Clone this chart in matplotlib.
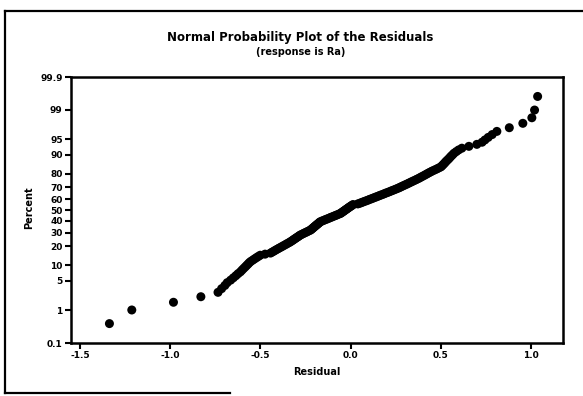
import numpy as np
import matplotlib
matplotlib.use("Agg")
import matplotlib.pyplot as plt
from matplotlib.lines import Line2D
from statistics import NormalDist

# sorted residuals from the fitted model (response Ra)
residuals = [
    -1.337, -1.213, -0.982, -0.830, -0.735, -0.715, -0.697, -0.684, -0.665, -0.650,
    -0.636, -0.624, -0.611, -0.602, -0.593, -0.584, -0.576, -0.568, -0.561, -0.552,
    -0.541, -0.531, -0.521, -0.511, -0.501, -0.474, -0.444, -0.434, -0.424, -0.415,
    -0.405, -0.396, -0.386, -0.377, -0.368, -0.359, -0.351, -0.342, -0.334, -0.327,
    -0.320, -0.314, -0.307, -0.301, -0.294, -0.288, -0.282, -0.275, -0.266, -0.258,
    -0.249, -0.241, -0.233, -0.224, -0.219, -0.214, -0.210, -0.205, -0.201, -0.196,
    -0.192, -0.187, -0.183, -0.178, -0.174, -0.170, -0.163, -0.154, -0.145, -0.136,
    -0.127, -0.118, -0.110, -0.101, -0.092, -0.083, -0.075, -0.066, -0.057, -0.052,
    -0.047, -0.042, -0.037, -0.032, -0.027, -0.022, -0.017, -0.012, -0.007, -0.002,
    0.004, 0.009, 0.014, 0.040, 0.051, 0.060, 0.069, 0.079, 0.089, 0.098,
    0.107, 0.117, 0.126, 0.136, 0.145, 0.155, 0.164, 0.174, 0.184, 0.193,
    0.203, 0.213, 0.223, 0.232, 0.242, 0.252, 0.262, 0.271, 0.279, 0.288,
    0.297, 0.306, 0.315, 0.324, 0.333, 0.342, 0.351, 0.361, 0.370, 0.380,
    0.388, 0.397, 0.406, 0.415, 0.424, 0.433, 0.443, 0.453, 0.465, 0.477,
    0.488, 0.500, 0.506, 0.512, 0.518, 0.524, 0.530, 0.537, 0.544, 0.551,
    0.558, 0.566, 0.574, 0.586, 0.599, 0.617, 0.656, 0.700, 0.729, 0.745,
    0.763, 0.785, 0.811, 0.880, 0.955, 1.005, 1.020, 1.037,
]

percent_ticks = [0.1, 1, 5, 10, 20, 30, 40, 50, 60, 70, 80, 90, 95, 99, 99.9]
percent_labels = ["0.1", "1", "5", "10", "20", "30", "40", "50",
                  "60", "70", "80", "90", "95", "99", "99.9"]
residual_ticks = [-1.5, -1.0, -0.5, 0.0, 0.5, 1.0]

_nd = NormalDist()


def to_z(pct):
    pct = np.clip(np.asarray(pct, dtype=float), 1e-4, 100 - 1e-4)
    return np.array([_nd.inv_cdf(v / 100) for v in pct.ravel()]).reshape(pct.shape)


def from_z(z):
    z = np.asarray(z, dtype=float)
    return np.array([_nd.cdf(v) * 100 for v in z.ravel()]).reshape(z.shape)


# Minitab-style plotting positions (i - 0.3) / (n + 0.4)
r = np.sort(np.array(residuals))
n = len(r)
ranks = np.arange(1, n + 1)
pct = (ranks - 0.3) / (n + 0.4) * 100

fig = plt.figure(figsize=(5.83, 3.96), dpi=100)
ax = fig.add_axes([0.1218, 0.1338, 0.844, 0.6717])
ax.set_yscale("function", functions=(to_z, from_z))

ax.scatter(r, pct, s=42, color="black", edgecolors="none", zorder=3)

ax.set_xlim(-1.55, 1.178)
ax.set_ylim(0.1, 99.9)
ax.set_xticks(residual_ticks)
ax.set_xticklabels([f"{t:.1f}" for t in residual_ticks])
ax.set_yticks(percent_ticks)
ax.set_yticklabels(percent_labels)
ax.minorticks_off()
ax.tick_params(direction="out", length=4, width=1.5, labelsize=6.5, pad=2)
for lab in ax.get_xticklabels() + ax.get_yticklabels():
    lab.set_fontweight("bold")
for sp in ax.spines.values():
    sp.set_linewidth(1.8)

fig.text(0.515, 1 - 38 / 396, "Normal Probability Plot of the Residuals",
         ha="center", va="center", fontsize=8.5, fontweight="bold")
fig.text(0.515, 1 - 52 / 396, "(response is Ra)",
         ha="center", va="center", fontsize=7, fontweight="bold")
fig.text(29 / 583, 1 - 208 / 396, "Percent", rotation=90,
         ha="center", va="center", fontsize=7, fontweight="bold")
fig.text(317 / 583, 1 - 372 / 396, "Residual",
         ha="center", va="center", fontsize=7, fontweight="bold")

# outer frame around the graph window
frame_kw = dict(color="black", linewidth=1.6, transform=fig.transFigure)
fig.add_artist(Line2D([0.0086, 0.0086], [0.0076, 0.972], **frame_kw))
fig.add_artist(Line2D([0.0086, 1.0], [0.972, 0.972], **frame_kw))
fig.add_artist(Line2D([0.0086, 0.395], [0.0076, 0.0076], **frame_kw))

fig.savefig("out.png", dpi=100)
